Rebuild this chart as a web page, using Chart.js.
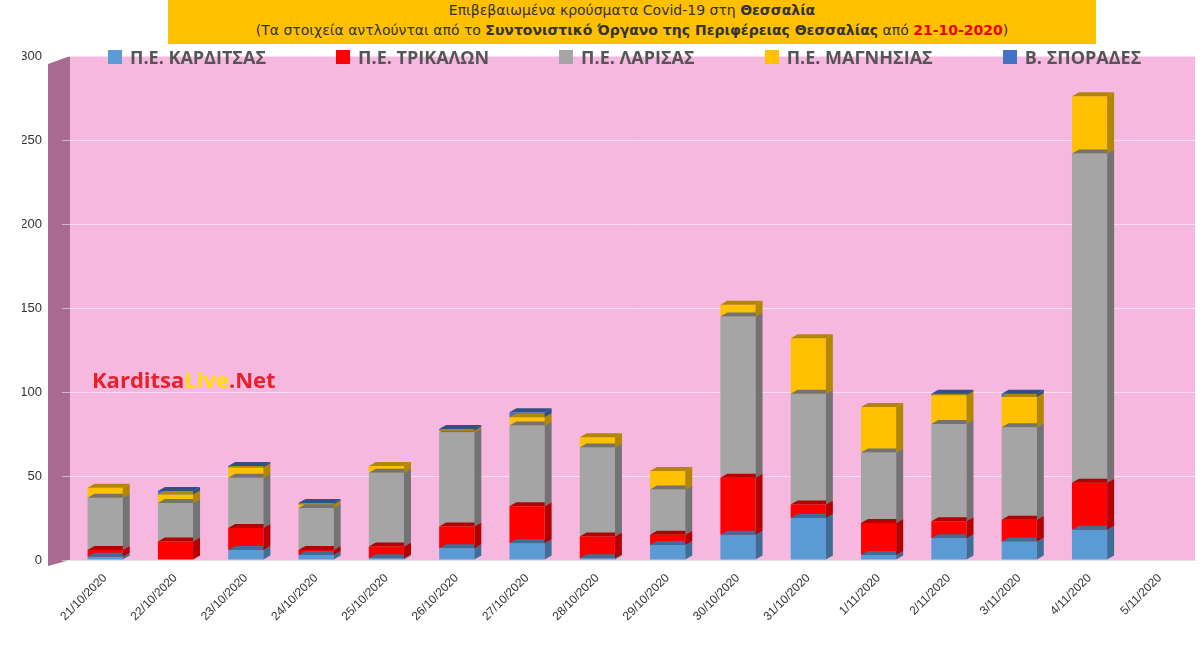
<!DOCTYPE html>
<html><head><meta charset="utf-8">
<script src="https://cdn.jsdelivr.net/npm/chart.js@4"></script>
<style>
body{margin:0;background:#fff;font-family:"DejaVu Sans",sans-serif;}
#t{position:absolute;left:168px;top:0;width:928px;height:44px;background:#ffc000;text-align:center;font-size:14px;line-height:20px;color:#333;z-index:2}
#wrap{position:absolute;left:0;top:0;width:1200px;height:647px;}
#wm{position:absolute;left:92px;top:364px;font:bold 22px "Open Sans",sans-serif;color:#e8202a;}
#lg{position:absolute;left:108px;top:45px;font:bold 18px "Open Sans",sans-serif;color:#555;display:flex;white-space:nowrap;width:1100px}
#lg span{display:inline-flex;align-items:center;margin-right:70px;white-space:nowrap}
#lg i{display:inline-block;width:14px;height:14px;margin-right:8px}
</style></head><body>
<div id="wrap"><canvas id="c" width="1200" height="647"></canvas></div>
<div id="t">Επιβεβαιωμένα κρούσματα Covid-19 στη <b>Θεσσαλία</b><br>(Τα στοιχεία αντλούνται από το <b>Συντονιστικό Όργανο της Περιφέρειας Θεσσαλίας</b> από <b style="color:#e00">21-10-2020</b>)</div>
<div id="lg"></div>
<div id="wm">Karditsa<span style="color:#ffe000">Live</span>.Net</div>
<script>
const labels=["21/10/2020","22/10/2020","23/10/2020","24/10/2020","25/10/2020","26/10/2020","27/10/2020","28/10/2020","29/10/2020","30/10/2020","31/10/2020","1/11/2020","2/11/2020","3/11/2020","4/11/2020","5/11/2020"];
const karditsa=[2,0,6,3,1,7,10,1,9,15,25,3,13,11,18,0];
const trikala=[4,11,13,3,7,13,22,13,6,34,8,19,10,13,28,0];
const larisa=[31,23,30,25,44,56,48,53,27,96,66,42,58,55,196,0];
const magnisia=[6,5,6,2,4,1,5,6,11,7,33,27,17,18,34,0];
const sporades=[0,2,1,1,0,1,3,0,0,0,0,0,1,2,0,0];
const bg={id:'bg',beforeDraw(ch){const{ctx,chartArea:a}=ch;ctx.save();ctx.fillStyle='#f7b8e0';ctx.fillRect(a.left,a.top,a.right-a.left,a.bottom-a.top);
ctx.fillStyle='#a86a8e';ctx.beginPath();ctx.moveTo(a.left-22,a.top+8);ctx.lineTo(a.left,a.top);ctx.lineTo(a.left,a.bottom);ctx.lineTo(a.left-22,a.bottom+6);ctx.fill();ctx.restore();},
afterDatasetsDraw(ch){const ctx=ch.ctx;ctx.save();ch.data.datasets.forEach((d,i)=>{ch.getDatasetMeta(i).data.forEach(b=>{const h=b.base-b.y;if(h<0.5)return;const w=b.width;const dx=7;ctx.fillStyle=shade(d.backgroundColor);ctx.beginPath();ctx.moveTo(b.x+w/2,b.y);ctx.lineTo(b.x+w/2+dx,b.y-4);ctx.lineTo(b.x+w/2+dx,b.base-4);ctx.lineTo(b.x+w/2,b.base);ctx.fill();ctx.beginPath();ctx.moveTo(b.x-w/2,b.y);ctx.lineTo(b.x-w/2+dx,b.y-4);ctx.lineTo(b.x+w/2+dx,b.y-4);ctx.lineTo(b.x+w/2,b.y);ctx.fill();});});ctx.restore();}};
function shade(c){const n=parseInt(c.slice(1),16);const f=v=>Math.round(v*0.7);return`rgb(${f(n>>16)},${f((n>>8)&255)},${f(n&255)})`;}
const ds=[
{label:'Π.Ε. ΚΑΡΔΙΤΣΑΣ',data:karditsa,backgroundColor:'#5b9bd5'},
{label:'Π.Ε. ΤΡΙΚΑΛΩΝ',data:trikala,backgroundColor:'#ff0000'},
{label:'Π.Ε. ΛΑΡΙΣΑΣ',data:larisa,backgroundColor:'#a5a5a5'},
{label:'Π.Ε. ΜΑΓΝΗΣΙΑΣ',data:magnisia,backgroundColor:'#ffc000'},
{label:'Β. ΣΠΟΡΑΔΕΣ',data:sporades,backgroundColor:'#4472c4'}];
document.getElementById('lg').innerHTML=ds.map(d=>`<span><i style="background:${d.backgroundColor}"></i>${d.label}</span>`).join('');
new Chart(document.getElementById('c'),{type:'bar',data:{labels,datasets:ds},
options:{responsive:false,animation:false,layout:{padding:{left:22,right:5,top:56}},
datasets:{bar:{categoryPercentage:0.5,barPercentage:1}},
plugins:{legend:{display:false},tooltip:{enabled:false}},
scales:{x:{stacked:true,grid:{display:false},afterFit(s){s.height=87;},ticks:{maxRotation:45,minRotation:45,color:'#333',font:{size:12}},offset:true},
y:{stacked:true,min:0,max:300,afterFit(s){s.width=48;},ticks:{stepSize:50,color:'#333',font:{size:13},padding:20},grid:{color:'rgba(255,255,255,0.5)'},border:{display:false}}}},
plugins:[bg]});
</script>
</body></html>
